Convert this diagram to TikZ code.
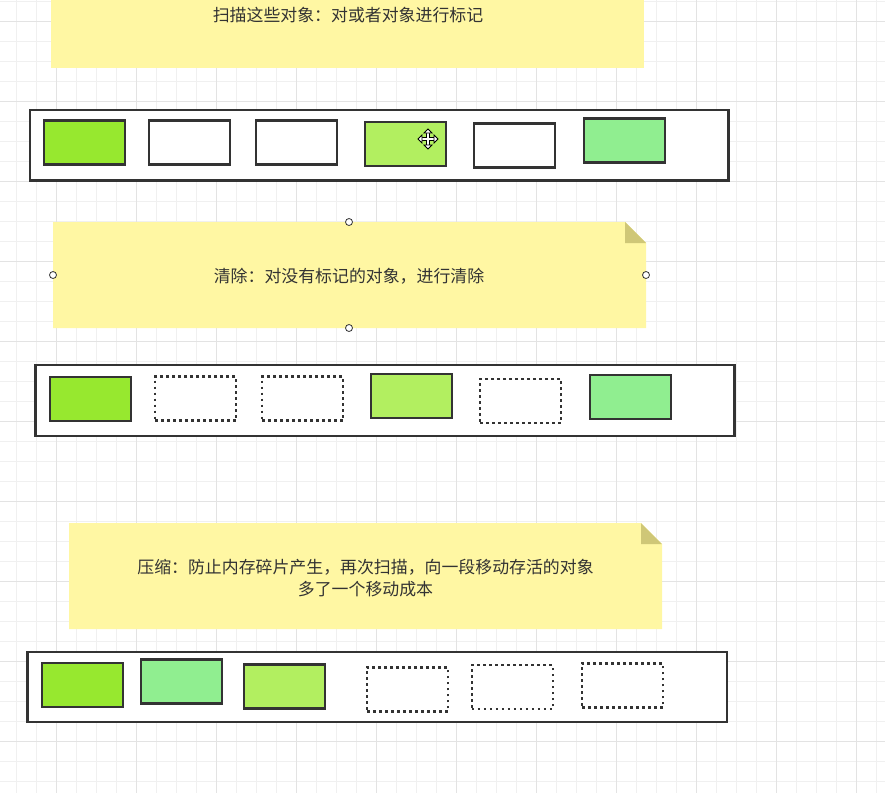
\documentclass[tikz,border=0pt]{standalone}
\usepackage{fontspec}
\setmainfont{Noto Sans CJK SC}
\usetikzlibrary{arrows.meta}
\definecolor{gminor}{HTML}{F0F0F0}
\definecolor{gmajor}{HTML}{E3E3E3}
\definecolor{greenA}{HTML}{97E82F}
\definecolor{greenB}{HTML}{B2EF60}
\definecolor{greenC}{HTML}{90EE90}
\definecolor{notefill}{HTML}{FFF7A3}
\definecolor{foldfill}{HTML}{CFC777}
\definecolor{edge}{HTML}{333333}
\definecolor{txt}{HTML}{333333}
\tikzset{
  objbox/.style={draw=edge, line width=2.4pt, minimum width=81pt, minimum height=44pt, inner sep=0pt, outer sep=0pt},
  freed/.style={objbox, draw=edge, dash pattern=on 2.6pt off 3.4pt, fill=white},
  container/.style={draw=edge, line width=2.4pt, fill=white},
  note/.style={fill=notefill},
  fold/.style={fill=foldfill},
  notetext/.style={text=txt, font=\fontsize{16.9pt}{22pt}\selectfont, align=center, inner sep=0pt},
  handle/.style={circle, draw=edge, fill=white, line width=0.8pt, minimum size=7pt, inner sep=0pt}
}
\begin{document}
\begin{tikzpicture}[x=1pt,y=-1pt]
\useasboundingbox (0,0) rectangle (885,793);
\begin{scope}
\clip (0,0) rectangle (885,793);
% grid
\foreach \gx in {16.7,36.7,...,885} \draw[gminor, line width=0.7pt] (\gx,0) -- (\gx,793);
\foreach \gy in {1.7,21.7,...,793} \draw[gminor, line width=0.7pt] (0,\gy) -- (885,\gy);
\foreach \gx in {56.7,136.7,...,885} \draw[gmajor, line width=0.8pt] (\gx,0) -- (\gx,793);
\foreach \gy in {21.7,101.7,...,793} \draw[gmajor, line width=0.8pt] (0,\gy) -- (885,\gy);

% ---- note 1
\fill[note] (51,-40) rectangle (644,68);
\node[notetext] (t1) at (348,15) {扫描这些对象：对或者对象进行标记};

% ---- row 1
\filldraw[container] (30,110) rectangle (728.5,180.5);
\node[objbox, fill=greenA] (a1) at (84.5,142.5) {};
\node[objbox, fill=white]  (a2) at (189.5,142.5) {};
\node[objbox, fill=white]  (a3) at (296.5,142.5) {};
\node[objbox, fill=greenB] (a4) at (405.7,143.7) {};
\node[objbox, fill=white]  (a5) at (514.7,145.5) {};
\node[objbox, fill=greenC] (a6) at (624.7,140.5) {};
% move cursor
\coordinate (mc) at (428,139);
\begin{scope}[shift={(mc)}]
\draw[black, line width=3.2pt] (-8,0) -- (8,0) (0,-8) -- (0,8);
\draw[white, line width=1.3pt] (-7,0) -- (7,0) (0,-7) -- (0,7);
\foreach \r in {0,90,180,270}
  \filldraw[rotate=\r, fill=white, draw=black, line width=0.8pt] (10,0) -- (6,-4) -- (6,4) -- cycle;
\end{scope}

% ---- note 2
\fill[note] (53,222) -- (625,222) -- (646,243) -- (646,328) -- (53,328) -- cycle;
\fill[fold] (625,222) -- (646,243) -- (625,243) -- cycle;
\node[notetext] (t2) at (349,276) {清除：对没有标记的对象，进行清除};
\node[handle] (h1) at (349,222) {};
\node[handle] (h2) at (53,275) {};
\node[handle] (h3) at (646,275) {};
\node[handle] (h4) at (349,328) {};

% ---- row 2
\filldraw[container] (35.5,365) rectangle (734.5,436);
\node[objbox, fill=greenA] (b1) at (90.7,398.8) {};
\node[freed] (b2) at (195.5,398.5) {};
\node[freed] (b3) at (302.5,398.5) {};
\node[objbox, fill=greenB] (b4) at (411.7,395.8) {};
\node[freed] (b5) at (520.5,401) {};
\node[objbox, fill=greenC] (b6) at (630.5,397) {};

% ---- note 3
\fill[note] (69,523) -- (641,523) -- (662,544) -- (662,629) -- (69,629) -- cycle;
\fill[fold] (641,523) -- (662,544) -- (641,544) -- cycle;
\node[notetext] (t3) at (365.5,578) {压缩：防止内存碎片产生，再次扫描，向一段移动存活的对象\\多了一个移动成本};

% ---- row 3
\filldraw[container] (27.3,652) rectangle (726.7,722);
\node[objbox, fill=greenA] (c1) at (82.5,684.7) {};
\node[objbox, fill=greenC] (c2) at (181.7,681.6) {};
\node[objbox, fill=greenB] (c3) at (284.3,686.3) {};
\node[freed] (c4) at (407.5,689.3) {};
\node[freed] (c5) at (512.3,687.2) {};
\node[freed] (c6) at (622.5,685.3) {};
\end{scope}
\end{tikzpicture}
\end{document}
